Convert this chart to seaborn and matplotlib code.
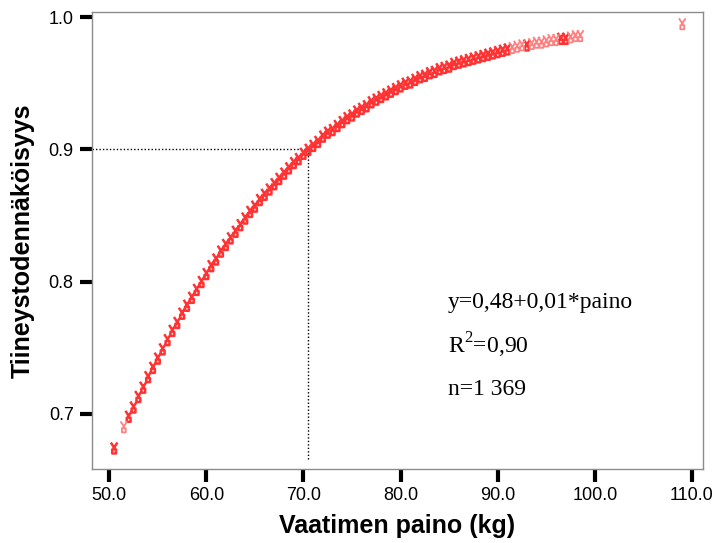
import numpy as np
import pandas as pd
import matplotlib
matplotlib.use("Agg")
import matplotlib.pyplot as plt
from matplotlib.path import Path
from matplotlib.markers import MarkerStyle
import seaborn as sns

# Predicted pregnancy probability by ram weight (kg)
paino = [50.5, 51.5, 52.0, 52.5, 53.0, 53.5, 54.0, 54.5, 55.0, 55.5, 56.0, 56.5,
         57.0, 57.5, 58.0, 58.5, 59.0, 59.5, 60.0, 60.5, 61.0, 61.5, 62.0, 62.5,
         63.0, 63.5, 64.0, 64.5, 65.0, 65.5, 66.0, 66.5, 67.0, 67.5, 68.0, 68.5,
         69.0, 69.5, 70.0, 70.5, 71.0, 71.5, 72.0, 72.5, 73.0, 73.5, 74.0, 74.5,
         75.0, 75.5, 76.0, 76.5, 77.0, 77.5, 78.0, 78.5, 79.0, 79.5, 80.0, 80.5,
         81.0, 81.5, 82.0, 82.5, 83.0, 83.5, 84.0, 84.5, 85.0, 85.5, 86.0, 86.5,
         87.0, 87.5, 88.0, 88.5, 89.0, 89.5, 90.0, 90.5, 91.0, 91.5, 92.0, 92.5,
         93.0, 93.5, 94.0, 94.5, 95.0, 95.5, 96.0, 96.5, 97.0, 97.5, 98.0, 98.5,
         109.0]
todennakoisyys = [0.674, 0.690, 0.698, 0.705, 0.713, 0.720, 0.728, 0.735, 0.742, 0.749,
                  0.756, 0.763, 0.769, 0.776, 0.782, 0.788, 0.794, 0.800, 0.806, 0.812,
                  0.817, 0.823, 0.828, 0.833, 0.838, 0.843, 0.848, 0.853, 0.857, 0.862,
                  0.866, 0.870, 0.874, 0.878, 0.882, 0.886, 0.890, 0.893, 0.897, 0.900,
                  0.903, 0.906, 0.910, 0.913, 0.915, 0.918, 0.921, 0.924, 0.926, 0.929,
                  0.931, 0.933, 0.936, 0.938, 0.940, 0.942, 0.944, 0.946, 0.948, 0.950,
                  0.951, 0.953, 0.955, 0.956, 0.958, 0.959, 0.961, 0.962, 0.963, 0.965,
                  0.966, 0.967, 0.968, 0.969, 0.970, 0.971, 0.972, 0.973, 0.974, 0.975,
                  0.976, 0.977, 0.978, 0.979, 0.979, 0.980, 0.981, 0.981, 0.982, 0.983,
                  0.983, 0.984, 0.984, 0.985, 0.986, 0.986, 0.995]
# weights with only a few rams (drawn paler)
harvinainen = [False, True, False, False, False, False, False, False, False, False,
               False, False, False, False, False, False, False, False, False, False,
               False, False, False, False, False, False, False, False, False, False,
               False, False, False, False, False, False, False, False, False, False,
               False, False, False, False, False, False, False, False, False, False,
               False, False, False, False, False, False, False, False, False, False,
               False, False, False, False, False, False, False, False, False, False,
               False, False, False, False, False, False, False, False, False, False,
               False, True, True, True, False, True, True, True, True, True,
               True, False, False, True, True, True, True]

x_ticks = [50.0, 60.0, 70.0, 80.0, 90.0, 100.0, 110.0]
y_ticks = [0.7, 0.8, 0.9, 1.0]
raja_p = 0.9
raja_paino = 70.5

malli = ["y=0,48+0,01*paino", "R$^2$=0,90", "n=1 369"]

df = pd.DataFrame({"paino": paino, "p": todennakoisyys, "harvinainen": harvinainen})

sns.set_style("white")
plt.rcParams["font.family"] = ["Liberation Sans", "DejaVu Sans"]
plt.rcParams["mathtext.fontset"] = "custom"
plt.rcParams["mathtext.rm"] = "Liberation Serif"

fig = plt.figure(figsize=(7.17, 5.43), dpi=100)
ax = fig.add_axes([0.128, 0.136, 0.852, 0.842])

# marker: an open "v" over a small box
verts = [(-0.6, 1.0), (0.12, -0.1), (0.6, 1.0), (-0.12, -0.1),
         (-0.35, -0.25), (0.35, -0.25), (0.35, -1.0), (-0.35, -1.0), (-0.35, -0.25)]
codes = [Path.MOVETO, Path.LINETO, Path.MOVETO, Path.LINETO,
         Path.MOVETO, Path.LINETO, Path.LINETO, Path.LINETO, Path.CLOSEPOLY]
merkki = MarkerStyle(Path(verts, codes), fillstyle="none")

sns.scatterplot(data=df[~df["harvinainen"]], x="paino", y="p", marker=merkki,
                color="#ff3333", s=62, linewidth=1.8, ax=ax, zorder=3)
sns.scatterplot(data=df[df["harvinainen"]], x="paino", y="p", marker=merkki,
                color="#ff8080", s=62, linewidth=1.3, ax=ax, zorder=3)

ax.set_xlim(48.2, 111.1)
ax.set_ylim(0.658, 1.004)

# reference lines at p = 0.9
ax.plot([48.2, raja_paino], [raja_p, raja_p], color="black",
        linestyle=(0, (1, 1.5)), linewidth=1.0, zorder=2)
ax.plot([raja_paino, raja_paino], [0.666, raja_p], color="black",
        linestyle=(0, (1, 1.5)), linewidth=1.0, zorder=2)

ax.set_xticks(x_ticks)
ax.set_xticklabels([f"{v:.1f}" for v in x_ticks])
ax.set_yticks(y_ticks)
ax.set_yticklabels([f"{v:.1f}" for v in y_ticks])
ax.tick_params(axis="both", direction="out", length=9, width=3, color="black",
               labelsize=13, pad=4, labelcolor="black")
ax.tick_params(axis="both", which="both", bottom=True, left=True)

for sp in ax.spines.values():
    sp.set_visible(True)
    sp.set_color("#8c8c8c")
    sp.set_linewidth(1.0)

ax.set_xlabel("Vaatimen paino (kg)", fontsize=18, fontweight="bold",
              labelpad=7, color="black")
ax.set_ylabel("Tiineystodennäköisyys", fontsize=18, fontweight="bold",
              labelpad=10, color="black")

for i, t in enumerate(malli):
    ax.text(0.583, 0.365 - i * 0.095, t, transform=ax.transAxes,
            fontsize=17, family=["Liberation Serif", "DejaVu Serif"],
            va="center", ha="left", color="black")

fig.savefig("out.png", dpi=100)
